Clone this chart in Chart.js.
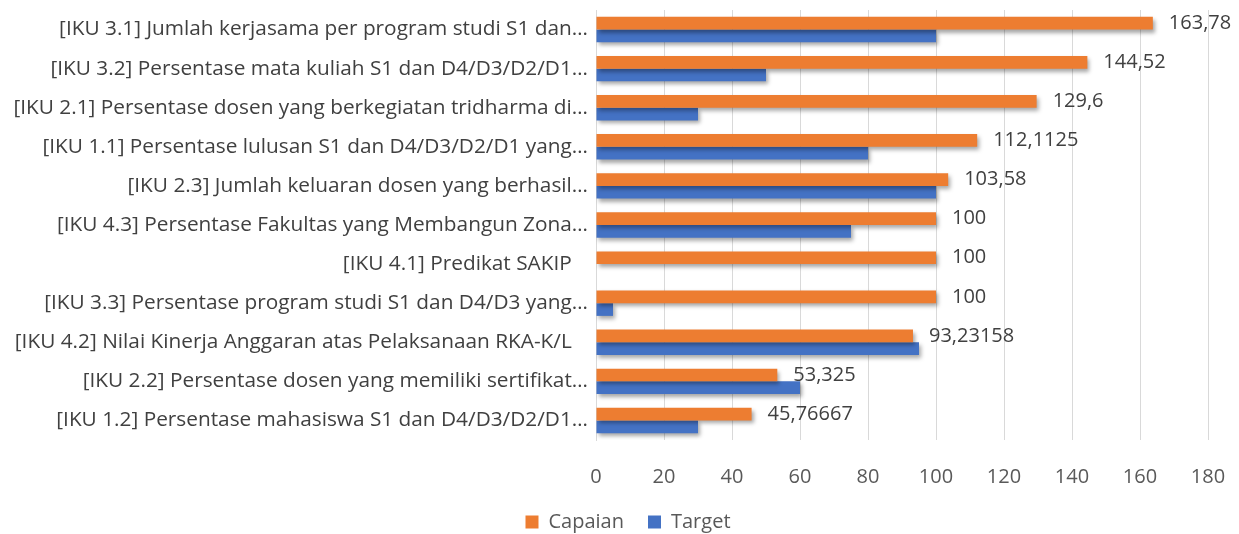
<!DOCTYPE html>
<html>
<head>
<meta charset="utf-8">
<script src="https://cdn.jsdelivr.net/npm/chart.js@4/dist/chart.umd.min.js"></script>
<style>
html,body{margin:0;padding:0;background:#fff;overflow:hidden;}
#wrap{width:1239px;height:542px;position:relative;}
</style>
</head>
<body>
<div id="wrap"><canvas id="c"></canvas></div>
<script>
const categories = [
  "[IKU 3.1] Jumlah kerjasama per program studi S1 dan…",
  "[IKU 3.2] Persentase mata kuliah S1 dan D4/D3/D2/D1…",
  "[IKU 2.1] Persentase dosen yang berkegiatan tridharma di…",
  "[IKU 1.1] Persentase lulusan S1 dan D4/D3/D2/D1 yang…",
  "[IKU 2.3] Jumlah keluaran dosen yang berhasil…",
  "[IKU 4.3] Persentase Fakultas yang Membangun Zona…",
  "[IKU 4.1] Predikat SAKIP   ",
  "[IKU 3.3] Persentase program studi S1 dan D4/D3 yang…",
  "[IKU 4.2] Nilai Kinerja Anggaran atas Pelaksanaan RKA-K/L   ",
  "[IKU 2.2] Persentase dosen yang memiliki sertifikat…",
  "[IKU 1.2] Persentase mahasiswa S1 dan D4/D3/D2/D1…"
];
const capaian = [163.78, 144.52, 129.6, 112.1125, 103.58, 100, 100, 100, 93.23158, 53.325, 45.76667];
const target = [100, 50, 30, 80, 100, 75, null, 5, 95, 60, 30];
const capaianLabels = ["163,78", "144,52", "129,6", "112,1125", "103,58", "100", "100", "100", "93,23158", "53,325", "45,76667"];
const xTicks = [0, 20, 40, 60, 80, 100, 120, 140, 160, 180];

const FONT = "'Open Sans', sans-serif";

const shadowPlugin = {
  id: 'shadow',
  beforeDatasetsDraw(chart) {
    const ctx = chart.ctx;
    ctx.save();
    ctx.shadowColor = 'rgba(0,0,0,0.35)';
    ctx.shadowBlur = 4;
    ctx.shadowOffsetX = 2;
    ctx.shadowOffsetY = 3;
  },
  afterDatasetsDraw(chart) {
    chart.ctx.restore();
  }
};

const legendShift = {
  id: 'legendShift',
  afterLayout(chart) {
    const l = chart.legend;
    if (l) { l.left += 24; l.right += 24; }
  }
};

const labelPlugin = {
  id: 'valueLabels',
  afterDatasetsDraw(chart) {
    const ctx = chart.ctx;
    const meta = chart.getDatasetMeta(0);
    ctx.save();
    ctx.font = "20px " + FONT;
    ctx.fillStyle = '#404040';
    ctx.textAlign = 'left';
    ctx.textBaseline = 'middle';
    meta.data.forEach((bar, i) => {
      ctx.fillText(capaianLabels[i], bar.x + 16, bar.y);
    });
    ctx.restore();
  }
};

new Chart(document.getElementById('c'), {
  type: 'bar',
  data: {
    labels: categories,
    datasets: [
      { label: 'Capaian', data: capaian, backgroundColor: '#ED7D31', borderWidth: 0 },
      { label: 'Target', data: target, backgroundColor: '#4472C4', borderWidth: 0 }
    ]
  },
  options: {
    indexAxis: 'y',
    responsive: true,
    maintainAspectRatio: false,
    animation: false,
    datasets: { bar: { categoryPercentage: 0.65, barPercentage: 1.0 } },
    layout: { padding: { top: 10, right: 31, bottom: 0, left: 0 } },
    scales: {
      x: {
        min: 0, max: 180,
        afterBuildTicks(scale) { scale.ticks = xTicks.map(v => ({ value: v })); },
        afterFit(scale) { scale.height = 48; scale.paddingLeft = 0; scale.paddingRight = 0; },
        grid: { color: '#d9d9d9', lineWidth: 1, drawTicks: false },
        border: { display: false },
        ticks: { color: '#595959', font: { family: FONT, size: 20 }, padding: 25 }
      },
      y: {
        afterFit(scale) { scale.width = 596; scale.paddingTop = 0; scale.paddingBottom = 0; },
        grid: { display: false, drawTicks: false },
        border: { display: true, color: '#d9d9d9' },
        ticks: { color: '#404040', font: { family: FONT, size: 20.8 }, padding: 8, autoSkip: false }
      }
    },
    plugins: {
      legend: {
        position: 'bottom',
        labels: { boxWidth: 13, boxHeight: 13, color: '#595959', font: { family: FONT, size: 20 }, padding: 24, useBorderRadius: false }
      },
      tooltip: { enabled: false }
    }
  },
  plugins: [shadowPlugin, labelPlugin, legendShift]
});
</script>
</body>
</html>
